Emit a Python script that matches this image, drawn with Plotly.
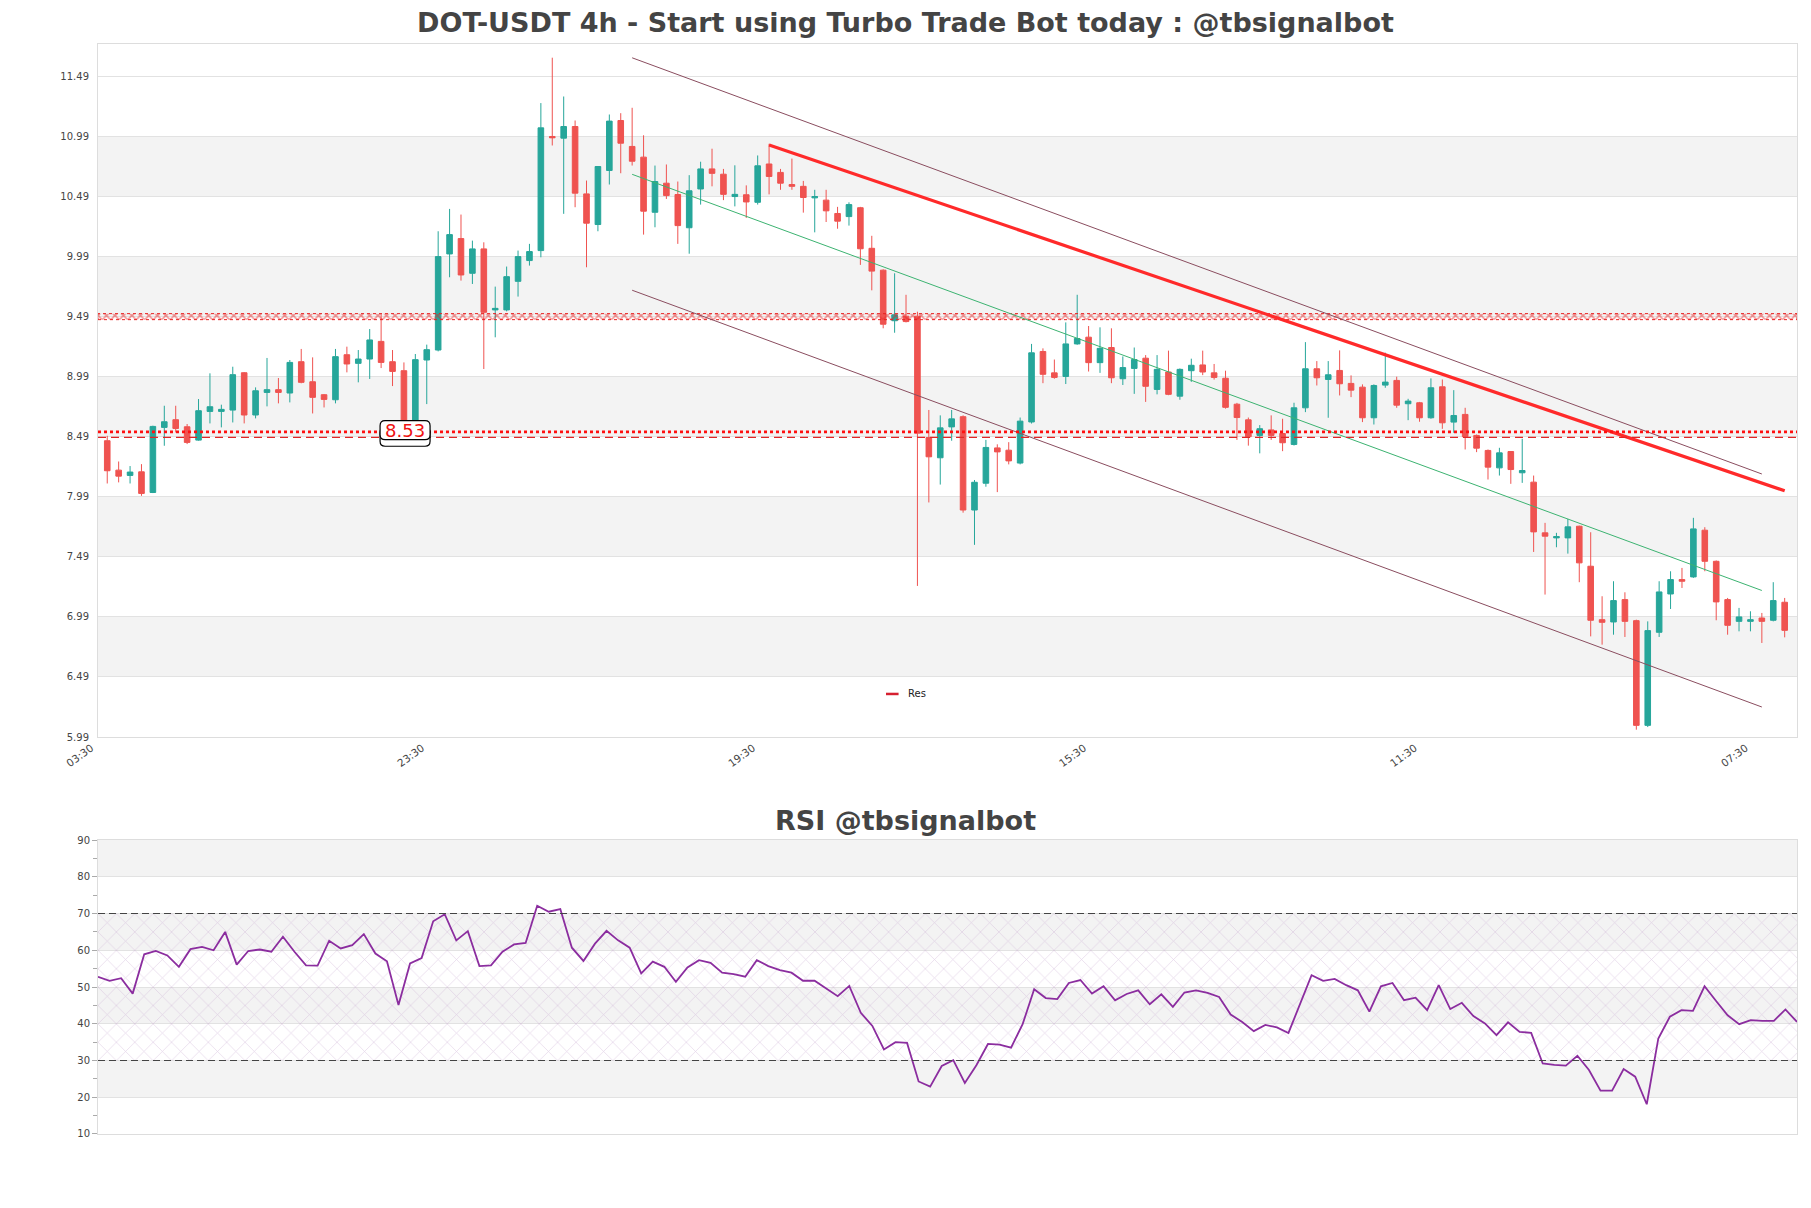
import plotly.graph_objects as go

# ---------------- data ----------------
candle_idx = list(range(148))

open_ = [8.457, 8.212, 8.168, 8.198, 8.026, 8.568, 8.632, 8.573, 8.462, 8.701,
         8.701, 8.712, 9.023, 8.671, 8.859, 8.882, 8.854, 9.115, 8.948, 8.840,
         8.798, 9.173, 9.101, 9.137, 9.284, 9.115, 9.040, 8.520, 9.129, 9.212,
         10.012, 10.140, 9.851, 10.054, 9.546, 9.546, 9.784, 9.957, 10.040, 10.990,
         10.976, 11.073, 10.512, 10.257, 10.707, 11.123, 10.907, 10.818, 10.359, 10.601,
         10.507, 10.230, 10.553, 10.720, 10.676, 10.490, 10.505, 10.442, 10.761, 10.691,
         10.590, 10.575, 10.479, 10.460, 10.349, 10.323, 10.397, 10.059, 9.877, 9.456,
         9.494, 9.494, 8.483, 8.315, 8.572, 8.657, 7.880, 8.103, 8.397, 8.378,
         8.271, 8.613, 9.200, 9.022, 8.992, 9.263, 9.319, 9.107, 9.233, 8.973,
         9.059, 9.144, 8.884, 9.029, 8.828, 9.040, 9.088, 9.022, 8.977, 8.761,
         8.631, 8.501, 8.547, 8.517, 8.426, 8.731, 9.056, 8.967, 9.042, 8.934,
         8.903, 8.648, 8.920, 8.959, 8.765, 8.773, 8.648, 8.906, 8.612, 8.676,
         8.501, 8.376, 8.231, 8.367, 8.190, 8.112, 7.690, 7.648, 7.648, 7.745,
         7.412, 6.967, 6.948, 7.134, 6.959, 6.087, 6.862, 7.181, 7.301, 7.323,
         7.712, 7.453, 7.134, 6.953, 6.953, 6.981, 6.962, 7.112]

high_ = [8.498, 8.284, 8.246, 8.262, 8.582, 8.748, 8.748, 8.596, 8.804, 9.018,
         8.757, 9.073, 9.029, 8.901, 9.146, 8.979, 9.129, 9.221, 9.151, 8.846,
         9.221, 9.240, 9.212, 9.387, 9.512, 9.212, 9.109, 9.179, 9.257, 10.201,
         10.387, 10.340, 10.123, 10.109, 9.740, 9.907, 10.040, 10.096, 11.268, 11.646,
         11.323, 11.123, 10.623, 10.740, 11.173, 11.184, 11.229, 11.000, 10.748, 10.757,
         10.615, 10.668, 10.780, 10.888, 10.720, 10.750, 10.583, 10.832, 10.929, 10.720,
         10.806, 10.620, 10.546, 10.546, 10.404, 10.442, 10.404, 10.163, 9.884, 9.851,
         9.672, 9.531, 8.713, 8.668, 8.713, 8.668, 8.130, 8.464, 8.427, 8.445,
         8.650, 9.263, 9.226, 9.133, 9.442, 9.672, 9.412, 9.401, 9.393, 9.159,
         9.233, 9.170, 9.170, 9.207, 9.059, 9.140, 9.207, 9.096, 9.040, 8.772,
         8.650, 8.587, 8.668, 8.640, 8.773, 9.278, 9.120, 9.120, 9.209, 9.001,
         8.926, 8.926, 9.190, 8.990, 8.806, 8.780, 8.976, 8.967, 8.878, 8.731,
         8.509, 8.384, 8.398, 8.370, 8.473, 8.167, 7.773, 7.690, 7.806, 7.750,
         7.695, 7.162, 7.287, 7.195, 6.967, 6.953, 7.287, 7.370, 7.398, 7.815,
         7.737, 7.460, 7.148, 7.065, 7.037, 7.023, 7.279, 7.148]

low_ = [8.101, 8.110, 8.101, 7.998, 8.021, 8.415, 8.526, 8.429, 8.457, 8.601,
        8.568, 8.609, 8.601, 8.643, 8.743, 8.768, 8.776, 8.935, 8.684, 8.734,
        8.768, 9.026, 8.943, 8.971, 9.062, 8.912, 8.470, 8.490, 8.762, 9.201,
        9.818, 9.790, 9.762, 9.054, 9.318, 9.534, 9.657, 9.915, 9.984, 10.915,
        10.346, 10.401, 9.901, 10.201, 10.590, 10.684, 10.748, 10.173, 10.234, 10.470,
        10.096, 10.014, 10.423, 10.575, 10.460, 10.408, 10.312, 10.423, 10.508, 10.546,
        10.546, 10.356, 10.192, 10.278, 10.222, 10.248, 9.921, 9.709, 9.393, 9.356,
        9.442, 7.248, 7.943, 8.092, 8.457, 7.858, 7.590, 8.074, 8.029, 8.260,
        8.260, 8.600, 8.936, 8.973, 8.929, 9.256, 9.033, 9.022, 8.936, 8.921,
        8.847, 8.780, 8.843, 8.836, 8.798, 8.947, 9.003, 8.966, 8.724, 8.464,
        8.416, 8.352, 8.464, 8.370, 8.417, 8.695, 8.917, 8.648, 8.834, 8.820,
        8.612, 8.592, 8.898, 8.731, 8.628, 8.615, 8.640, 8.556, 8.523, 8.384,
        8.362, 8.134, 8.167, 8.098, 8.106, 7.531, 7.176, 7.570, 7.517, 7.279,
        6.828, 6.759, 6.842, 6.823, 6.051, 6.073, 6.823, 7.056, 7.231, 7.315,
        7.370, 6.962, 6.842, 6.870, 6.870, 6.773, 6.953, 6.820]

close_ = [8.207, 8.162, 8.196, 8.018, 8.576, 8.615, 8.559, 8.443, 8.707, 8.740,
          8.718, 9.007, 8.671, 8.873, 8.882, 8.859, 9.109, 8.943, 8.818, 8.801,
          9.157, 9.096, 9.137, 9.296, 9.109, 9.034, 8.520, 9.132, 9.215, 9.990,
          10.173, 9.837, 10.054, 9.526, 9.559, 9.823, 9.990, 10.032, 11.062, 10.979,
          11.073, 10.518, 10.268, 10.740, 11.118, 10.934, 10.784, 10.368, 10.615, 10.498,
          10.248, 10.538, 10.720, 10.683, 10.508, 10.508, 10.445, 10.746, 10.657, 10.601,
          10.575, 10.482, 10.490, 10.371, 10.285, 10.423, 10.055, 9.869, 9.427, 9.505,
          9.449, 8.520, 8.323, 8.564, 8.639, 7.880, 8.111, 8.401, 8.364, 8.289,
          8.620, 9.189, 9.010, 8.984, 9.263, 9.308, 9.107, 9.226, 8.981, 9.066,
          9.133, 8.910, 9.051, 8.843, 9.051, 9.085, 9.029, 8.984, 8.735, 8.650,
          8.490, 8.557, 8.501, 8.440, 8.731, 9.056, 8.981, 9.006, 8.931, 8.878,
          8.648, 8.917, 8.945, 8.753, 8.787, 8.648, 8.898, 8.606, 8.667, 8.490,
          8.395, 8.237, 8.356, 8.217, 8.209, 7.698, 7.662, 7.659, 7.740, 7.440,
          6.962, 6.945, 7.126, 6.953, 6.087, 6.876, 7.198, 7.301, 7.287, 7.723,
          7.453, 7.115, 6.920, 6.990, 6.967, 6.953, 7.126, 6.878]

rsi_values = [52.8, 51.7, 52.4, 48.2, 58.9, 59.8, 58.6, 55.5, 60.3, 60.9,
              60.0, 65.0, 56.1, 59.8, 60.2, 59.6, 63.7, 59.6, 55.9, 55.8,
              62.6, 60.5, 61.4, 64.4, 59.1, 57.0, 45.1, 56.4, 57.9, 67.9,
              69.8, 62.7, 65.2, 55.7, 55.9, 59.6, 61.6, 62.0, 72.1, 70.5,
              71.2, 60.7, 57.1, 61.8, 65.3, 62.7, 60.7, 53.7, 56.9, 55.5,
              51.4, 55.3, 57.3, 56.6, 53.9, 53.5, 52.8, 57.3, 55.7, 54.6,
              53.9, 51.7, 51.7, 49.6, 47.5, 50.3, 43.0, 39.4, 33.0, 35.0,
              34.8, 24.3, 22.9, 28.5, 30.1, 23.9, 28.7, 34.5, 34.3, 33.5,
              39.9, 49.4, 47.0, 46.7, 51.1, 51.9, 48.2, 50.2, 46.4, 48.1,
              49.1, 45.3, 48.0, 44.6, 48.5, 49.1, 48.4, 47.3, 42.5, 40.5,
              38.0, 39.7, 39.0, 37.5, 45.4, 53.2, 51.7, 52.2, 50.5, 49.1,
              43.3, 50.2, 51.1, 46.4, 47.1, 43.7, 50.5, 44.0, 45.7, 42.1,
              40.1, 36.9, 40.4, 37.8, 37.5, 29.2, 28.8, 28.6, 31.3, 27.4,
              21.8, 21.8, 27.7, 25.6, 18.1, 36.0, 41.9, 43.7, 43.5, 50.2,
              46.2, 42.3, 39.9, 41.0, 40.8, 40.8, 43.9, 40.5]

tick_positions = [0, 29, 58, 87, 116, 145]
tick_labels = ["03:30", "23:30", "19:30", "15:30", "11:30", "07:30"]
price_ticks = [5.99, 6.49, 6.99, 7.49, 7.99, 8.49, 8.99, 9.49, 9.99, 10.49, 10.99, 11.49]
price_bands = [(6.49, 6.99), (7.49, 7.99), (8.49, 8.99), (9.49, 9.99), (10.49, 10.99)]
rsi_bands = [(20, 30), (40, 50), (60, 70), (80, 90)]

res_x = [58, 147]
res_y = [10.92, 8.04]
channel_x = [46, 145]
channel_upper = [11.645, 8.18]
channel_mid = [10.675, 7.21]
channel_lower = [9.71, 6.24]
zone_low, zone_high = 9.465, 9.515
level_dotted = 8.53
level_dashed = 8.485
label_text = "8.53"
label_x = 26.1

x_range = [-0.81, 148.08]
y_range = [5.99, 11.76]

# ---------------- figure ----------------
fig = go.Figure()

# resistance zone (hatched band)
fig.add_trace(go.Scatter(
    x=[x_range[0], x_range[1], x_range[1], x_range[0], x_range[0]],
    y=[zone_low, zone_low, zone_high, zone_high, zone_low],
    mode="lines", fill="toself",
    line=dict(color="#e82020", width=1, dash="dot"),
    fillcolor="rgba(0,0,0,0)",
    fillpattern=dict(shape="x", fgcolor="#e82020", bgcolor="rgba(0,0,0,0)",
                     size=6, solidity=0.45),
    showlegend=False, hoverinfo="skip", xaxis="x", yaxis="y"))

fig.add_trace(go.Candlestick(
    x=candle_idx, open=open_, high=high_, low=low_, close=close_,
    increasing=dict(line=dict(color="#26a69a", width=1), fillcolor="#26a69a"),
    decreasing=dict(line=dict(color="#ef5350", width=1), fillcolor="#ef5350"),
    whiskerwidth=0, showlegend=False, xaxis="x", yaxis="y"))

for ys, col in [(channel_upper, "#8a4d5f"), (channel_lower, "#8a4d5f"), (channel_mid, "#3cb371")]:
    fig.add_trace(go.Scatter(x=channel_x, y=ys, mode="lines",
                             line=dict(color=col, width=1),
                             showlegend=False, hoverinfo="skip", xaxis="x", yaxis="y"))

fig.add_trace(go.Scatter(x=res_x, y=res_y, mode="lines", name="Res",
                         line=dict(color="#ff2a2a", width=3.2),
                         showlegend=False, xaxis="x", yaxis="y"))

# RSI hatched region
fig.add_trace(go.Scatter(
    x=[0, 147, 147, 0, 0], y=[30, 30, 70, 70, 30],
    mode="none", fill="toself", fillcolor="rgba(0,0,0,0)",
    fillpattern=dict(shape="x", fgcolor="#c8a8d2", bgcolor="rgba(0,0,0,0)",
                     size=13, solidity=0.1),
    showlegend=False, hoverinfo="skip", xaxis="x2", yaxis="y2"))

fig.add_trace(go.Scatter(x=candle_idx, y=rsi_values, mode="lines",
                         line=dict(color="#8b2d9f", width=1.8),
                         showlegend=False, xaxis="x2", yaxis="y2"))

shapes = []
for lo, hi in price_bands:
    shapes.append(dict(type="rect", xref="x domain", yref="y", x0=0, x1=1, y0=lo, y1=hi,
                       fillcolor="#f3f3f3", line=dict(width=0), layer="below"))
for lo, hi in rsi_bands:
    shapes.append(dict(type="rect", xref="x2 domain", yref="y2", x0=0, x1=1, y0=lo, y1=hi,
                       fillcolor="#f3f3f3", line=dict(width=0), layer="below"))
for lvl in (70, 30):
    shapes.append(dict(type="line", xref="x2 domain", yref="y2", x0=0, x1=1, y0=lvl, y1=lvl,
                       line=dict(color="#444444", width=1.2, dash="7px,4px")))
shapes.append(dict(type="line", xref="x domain", yref="y", x0=0, x1=1,
                   y0=level_dashed, y1=level_dashed,
                   line=dict(color="#e02525", width=1.3, dash="8px,5px")))
shapes.append(dict(type="line", xref="x domain", yref="y", x0=0, x1=1,
                   y0=level_dotted, y1=level_dotted,
                   line=dict(color="#ff1010", width=2.8, dash="dot")))


def rounded_box(w, h, r):
    x0, x1, y0, y1 = -w / 2, w / 2, -h / 2, h / 2
    return (f"M {x0 + r},{y0} L {x1 - r},{y0} Q {x1},{y0} {x1},{y0 + r} "
            f"L {x1},{y1 - r} Q {x1},{y1} {x1 - r},{y1} L {x0 + r},{y1} "
            f"Q {x0},{y1} {x0},{y1 - r} L {x0},{y0 + r} Q {x0},{y0} {x0 + r},{y0} Z")


for yanc in (level_dashed + 0.005, level_dotted + 0.015):
    shapes.append(dict(type="path", xref="x", yref="y", xsizemode="pixel", ysizemode="pixel",
                       xanchor=label_x, yanchor=yanc, path=rounded_box(50, 19, 5),
                       fillcolor="white", line=dict(color="black", width=1.2)))

# manual legend sample
shapes.append(dict(type="line", xref="paper", yref="paper", x0=0.4638, x1=0.4712,
                   y0=0.4037, y1=0.4037, line=dict(color="#d62030", width=2.5)))

annotations = [
    dict(text="<b>RSI @tbsignalbot</b>", xref="paper", yref="paper", x=0.475, y=0.288,
         showarrow=False, font=dict(size=27, color="#444444", family="DejaVu Sans"),
         xanchor="center", yanchor="middle"),
    dict(text=label_text, xref="x", yref="y", x=label_x, y=level_dotted + 0.015,
         showarrow=False, font=dict(size=18, color="#ee1111", family="DejaVu Sans"),
         xanchor="center", yanchor="middle"),
    dict(text="Res", xref="paper", yref="paper", x=0.4755, y=0.4037, showarrow=False,
         xanchor="left", yanchor="middle", font=dict(size=10, color="#222222")),
]

axis_common = dict(showline=True, mirror=True, linecolor="#dddddd", linewidth=1, zeroline=False)

fig.update_layout(
    width=1811, height=1208,
    margin=dict(l=98, r=14, t=44, b=74),
    paper_bgcolor="white", plot_bgcolor="white",
    font=dict(family="DejaVu Sans", color="#444444"),
    title=dict(text="<b>DOT-USDT 4h - Start using Turbo Trade Bot today : @tbsignalbot</b>",
               x=0.5, xanchor="center", xref="container", y=0.981, yref="container",
               yanchor="middle", font=dict(size=27, color="#444444", family="DejaVu Sans")),
    showlegend=False,
    xaxis=dict(domain=[0, 1], anchor="y", range=x_range, tickmode="array",
               tickvals=tick_positions, ticktext=tick_labels, tickangle=-36,
               ticklabelshift=-16,
               tickfont=dict(size=10.5, color="#444444"), showgrid=False,
               rangeslider=dict(visible=False), **axis_common),
    yaxis=dict(domain=[0.3642, 1], anchor="x", range=y_range, tickmode="array",
               tickvals=price_ticks, ticktext=[f"{v:.2f}" for v in price_ticks],
               tickfont=dict(size=10, color="#444444"), showgrid=True, gridcolor="#e2e2e2",
               ticks="outside", ticklen=6, tickcolor="rgba(0,0,0,0)", **axis_common),
    xaxis2=dict(domain=[0, 1], anchor="y2", range=[0, 147], showticklabels=False,
                showgrid=False, **axis_common),
    yaxis2=dict(domain=[0, 0.2697], anchor="x2", range=[10, 90], tickmode="linear",
                tick0=10, dtick=10, tickfont=dict(size=10, color="#444444"),
                showgrid=True, gridcolor="#e2e2e2", ticks="outside", ticklen=5,
                tickcolor="#aaaaaa",
                minor=dict(dtick=5, tick0=5, ticks="outside", ticklen=4, tickcolor="#aaaaaa",
                           showgrid=False),
                **axis_common),
    shapes=shapes,
    annotations=annotations,
)

fig.write_html("out.html")
